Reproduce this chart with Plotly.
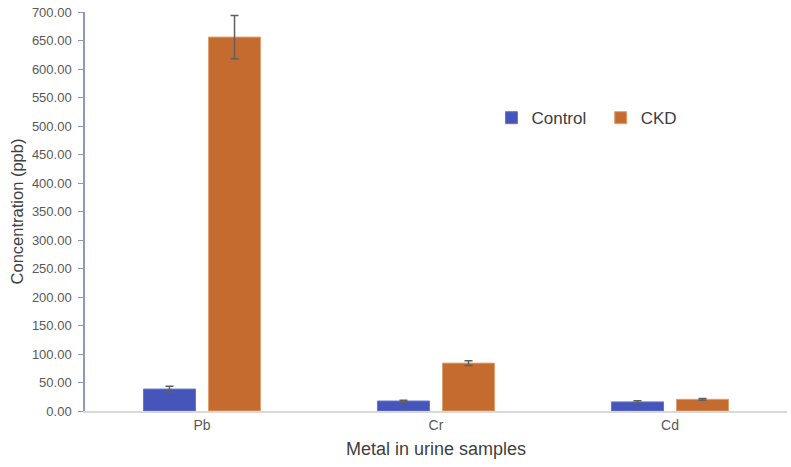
import plotly.graph_objects as go

categories = ["Pb", "Cr", "Cd"]
control = [38.5, 17.5, 16.0]
control_err = [5.0, 1.5, 2.0]
ckd = [656.0, 84.0, 20.5]
ckd_err = [38.0, 4.0, 1.5]
y_ticks = [i * 50 for i in range(15)]

fig = go.Figure()
fig.add_trace(go.Bar(
    name="Control  ", x=categories, y=control,
    marker=dict(color="#4555B9", line=dict(color="#6676CC", width=1)),
    error_y=dict(type="data", array=control_err, color="#606060", thickness=1.5, width=4),
))
fig.add_trace(go.Bar(
    name="CKD", x=categories, y=ckd,
    marker=dict(color="#C46B2F", line=dict(color="#E0A070", width=1)),
    error_y=dict(type="data", array=ckd_err, color="#606060", thickness=1.5, width=4),
))

fig.update_layout(
    width=791, height=467,
    margin=dict(l=85, r=4, t=12, b=56, autoexpand=False),
    paper_bgcolor="white", plot_bgcolor="white",
    barmode="group", bargap=0.444, bargroupgap=0.2,
    font=dict(family="Liberation Sans, Arial, sans-serif", color="#595959", size=13),
    legend=dict(
        x=0.579, y=0.734, xanchor="left", yanchor="middle",
        orientation="h", font=dict(size=17, color="#404040"),
        itemwidth=30, tracegroupgap=0, bgcolor="rgba(0,0,0,0)",
    ),
    xaxis=dict(
        title=dict(text="Metal in urine samples", font=dict(size=18, color="#404040"), standoff=11),
        showline=True, linecolor="#D9D9D9", linewidth=2, automargin=False,
        ticks="", tickfont=dict(size=14, color="#595959"),
    ),
    yaxis=dict(
        title=dict(text="Concentration (ppb)", font=dict(size=16.5, color="#404040"), standoff=4),
        range=[0, 700], tickvals=y_ticks, automargin=False,
        ticktext=[f"{v:.2f}" for v in y_ticks],
        showline=True, linecolor="#8C9AB5", linewidth=1.5,
        ticks="outside", ticklen=5, tickcolor="#8C9AB5", ticklabelstandoff=4,
        ticklabeloverflow="allow",
        showgrid=False, zeroline=False,
        tickfont=dict(size=13, color="#595959"),
    ),
)

fig.write_html("out.html", config={"displayModeBar": False},
               post_script="document.body.style.margin='0';")
